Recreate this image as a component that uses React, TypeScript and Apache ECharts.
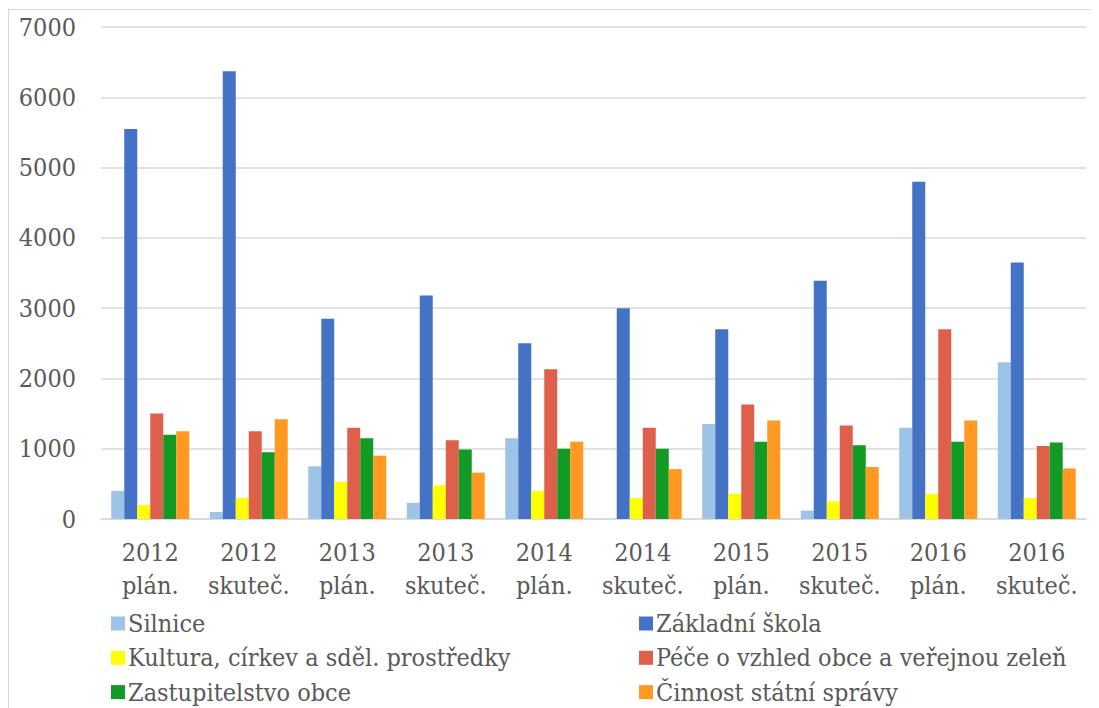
import React, { useEffect, useRef } from "react";
import * as echarts from "echarts";

const categories = [
  "2012\nplán.", "2012\nskuteč.", "2013\nplán.", "2013\nskuteč.", "2014\nplán.",
  "2014\nskuteč.", "2015\nplán.", "2015\nskuteč.", "2016\nplán.", "2016\nskuteč.",
];
const silnice = [400, 100, 750, 230, 1150, 0, 1350, 120, 1300, 2230];
const zakladniSkola = [5550, 6370, 2850, 3180, 2500, 3000, 2700, 3390, 4800, 3650];
const kultura = [200, 300, 530, 480, 400, 300, 360, 250, 360, 300];
const pece = [1500, 1250, 1300, 1120, 2130, 1300, 1630, 1330, 2700, 1040];
const zastupitelstvo = [1200, 950, 1150, 990, 1000, 1000, 1100, 1050, 1100, 1090];
const cinnost = [1250, 1420, 900, 660, 1100, 710, 1400, 740, 1400, 720];
const yTicks = { min: 0, max: 7000, interval: 1000 };

const seriesDefs = [
  { name: "Silnice", data: silnice, color: "#9DC3E6" },
  { name: "Základní škola", data: zakladniSkola, color: "#4472C4" },
  { name: "Kultura, církev a sděl. prostředky", data: kultura, color: "#FFFF00" },
  { name: "Péče o vzhled obce a veřejnou zeleň", data: pece, color: "#DE604A" },
  { name: "Zastupitelstvo obce", data: zastupitelstvo, color: "#129A24" },
  { name: "Činnost státní správy", data: cinnost, color: "#FF9922" },
];

const FONT = "DejaVu Serif Condensed";
const FS = 25;
const TEXT = "#595959";

export default function App() {
  const ref = useRef<HTMLDivElement>(null);
  useEffect(() => {
    if (!ref.current) return;
    const chart = echarts.init(ref.current, null, { renderer: "svg" });
    const legends = seriesDefs.map((s, i) => ({
      orient: "horizontal" as const,
      left: i % 2 === 0 ? 103 : 631,
      top: 610 + Math.floor(i / 2) * 34.3 - 7,
      itemWidth: 14,
      itemHeight: 14,
      itemGap: 6,
      icon: "rect",
      padding: 0,
      textStyle: { fontFamily: FONT, fontSize: FS, color: TEXT, padding: [0, 0, 0, -2] },
      data: [s.name],
    }));
    chart.setOption({
      animation: false,
      backgroundColor: "#ffffff",
      textStyle: { fontFamily: FONT },
      graphic: [
        {
          type: "rect",
          shape: { x: 0.5, y: 1.5, width: 1200, height: 1000 },
          style: { fill: "none", stroke: "#D9D9D9", lineWidth: 1.2 },
          silent: true,
        },
      ],
      grid: { left: 93, right: 13, top: 19, bottom: 189, containLabel: false },
      legend: legends,
      xAxis: {
        type: "category",
        data: categories,
        axisLine: { show: true, lineStyle: { color: "#D9D9D9", width: 1.5 } },
        axisTick: { show: false },
        axisLabel: {
          fontFamily: FONT,
          fontSize: FS,
          color: TEXT,
          lineHeight: 33,
          margin: 17,
          interval: 0,
        },
      },
      yAxis: {
        type: "value",
        min: yTicks.min,
        max: yTicks.max,
        interval: yTicks.interval,
        axisLine: { show: false },
        axisTick: { show: false },
        splitLine: { lineStyle: { color: "#D9D9D9", width: 1.5 } },
        axisLabel: {
          fontFamily: FONT,
          fontSize: FS,
          color: TEXT,
          margin: 25,
          formatter: (v: number) => String(v),
        },
      },
      series: seriesDefs.map((s) => ({
        type: "bar",
        name: s.name,
        data: s.data,
        barWidth: 13,
        barGap: "0%",
        itemStyle: { color: s.color },
      })),
    });
    return () => chart.dispose();
  }, []);
  return <div ref={ref} style={{ width: 1091, height: 700 }} />;
}
